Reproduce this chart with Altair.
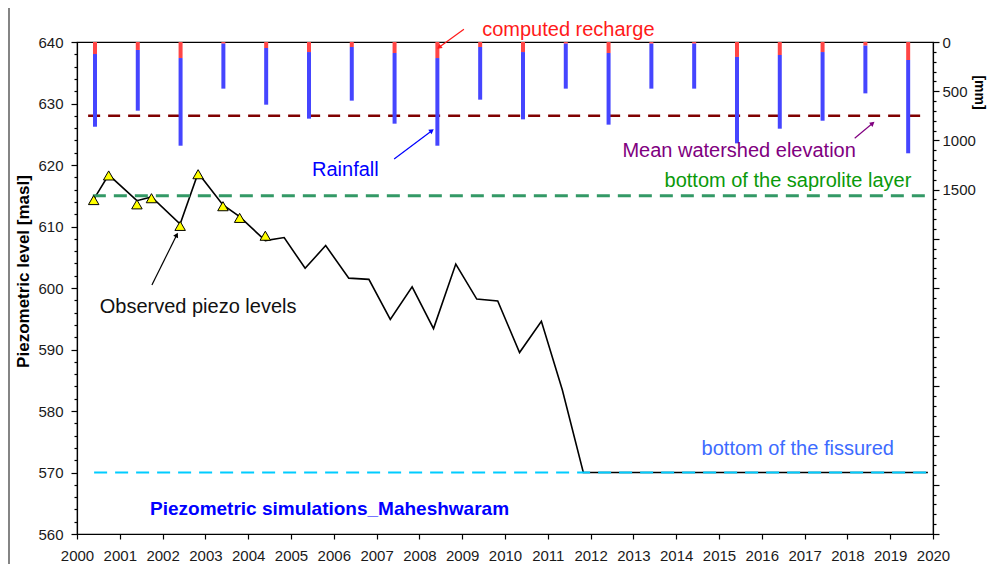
import altair as alt
import pandas as pd

# ---------------- data ----------------
bar_dates = [2000.42, 2001.42, 2002.42, 2003.42, 2004.42, 2005.42, 2006.42, 2007.42, 2008.42, 2009.42,
             2010.42, 2011.42, 2012.42, 2013.42, 2014.42, 2015.42, 2016.42, 2017.42, 2018.42, 2019.42]
rainfall_mm = [861, 698, 1054, 474, 637, 779, 596, 830, 1054, 586,
               786, 474, 840, 474, 474, 1030, 881, 800, 522, 1131]
recharge_mm = [122, 81, 163, 17, 61, 102, 51, 112, 163, 51,
               102, 17, 112, 17, 17, 152, 132, 102, 37, 183]

sim_dates = [2000.39, 2000.74, 2001.40, 2001.74, 2002.41, 2002.83, 2003.41, 2003.80, 2004.40, 2004.84,
             2005.33, 2005.81, 2006.35, 2006.82, 2007.32, 2007.83, 2008.33, 2008.85, 2009.34, 2009.83,
             2010.34, 2010.85, 2011.34, 2011.83, 2019.88]
sim_level = [614.4, 618.4, 614.2, 614.8, 610.4, 618.7, 613.5, 611.6, 607.7, 608.2,
             603.2, 606.9, 601.6, 601.4, 594.9, 600.2, 593.4, 603.9, 598.2, 597.9,
             589.5, 594.6, 583.4, 570.0, 570.0]

obs_dates = [2000.39, 2000.74, 2001.40, 2001.74, 2002.41, 2002.83, 2003.41, 2003.80, 2004.40]
obs_level = [614.3, 618.3, 613.6, 614.6, 610.1, 618.5, 613.3, 611.4, 608.5]

ref_level = [628.0, 615.0, 570.0]
ref_start = [2000.26, 2000.37, 2000.40]
ref_end = [2019.84, 2019.84, 2019.88]
ref_color = ["#800000", "#339966", "#00ccff"]
ref_width = [2.5, 3.0, 2.2]
ref_dash = [[12, 8], [13, 8], [13, 8]]

ann_text = ["computed recharge", "Rainfall", "Observed piezo levels",
            "Mean watershed elevation", "bottom of the saprolite layer", "bottom of the fissured"]
ann_x = [2011.48, 2006.27, 2002.83, 2015.47, 2016.61, 2016.84]
ann_y = [642.02, 619.25, 596.98, 622.28, 617.46, 573.89]
ann_color = ["#ff1a1a", "#0000ff", "#111111", "#800080", "#0a990a", "#3d6bff"]

title_text = ["Piezometric simulations_Maheshwaram"]
title_x = [2005.90]
title_y = [564.13]

arrow_x1 = [2009.04, 2007.41, 2001.75, 2018.17]
arrow_y1 = [642.07, 620.98, 600.49, 624.34]
arrow_x2 = [2008.46, 2008.29, 2002.33, 2018.59]
arrow_y2 = [639.14, 625.58, 608.62, 626.78]
arrow_color = ["#ff1a1a", "#0000ff", "#000000", "#800080"]
arrow_angle = [234, 54, 27, 51]

year_ticks = list(range(2000, 2021))
left_ticks = list(range(560, 641, 2))
right_ticks = list(range(0, 5001, 100))

FONT = "Liberation Sans"

# ---------------- scales & axes ----------------
x_scale = alt.Scale(domain=[2000, 2020], nice=False, zero=False)
yl_scale = alt.Scale(domain=[560, 640], nice=False, zero=False)
yr_scale = alt.Scale(domain=[0, 5000], nice=False, reverse=True)

x_axis = alt.Axis(values=year_ticks, format="d", title=None, grid=False, tickSize=5,
                  labelPadding=9, labelFontSize=15, labelFlush=False, labelOverlap=False,
                  orient="bottom")
yl_axis = alt.Axis(values=left_ticks, orient="left", grid=False, labelOverlap=False,
                   labelExpr="datum.value % 10 === 0 ? datum.label : ''",
                   tickSize={"condition": {"test": "datum.value % 10 === 0", "value": 6}, "value": 3},
                   labelPadding=8, labelFontSize=15, format="d",
                   title="Piezometric level [masl]", titleFontSize=17, titleFontWeight="bold",
                   titleX=-54, titleY=229, titleAngle=270, titleBaseline="middle", titleAlign="center")
yl_hidden = alt.Axis(orient="left", grid=False, labels=False, ticks=False, domain=False, title=None)
yr_axis = alt.Axis(values=right_ticks, orient="right", grid=False, labelOverlap=False,
                   labelExpr="datum.value <= 1500 && datum.value % 500 === 0 ? datum.label : ''",
                   tickSize={"condition": {"test": "datum.value % 500 === 0", "value": 6}, "value": 3},
                   labelPadding=3, labelFontSize=15, format="d",
                   title="[mm]", titleFontSize=14, titleFontWeight="bold",
                   titleX=45, titleY=50, titleAngle=90, titleBaseline="middle", titleAlign="center")

# ---------------- tables ----------------
bars = pd.DataFrame({"t": bar_dates, "rain": rainfall_mm, "rech": recharge_mm, "zero": [0] * len(bar_dates)})
sim = pd.DataFrame({"t": sim_dates, "h": sim_level})
obs = pd.DataFrame({"t": obs_dates, "h": obs_level})
ann = pd.DataFrame({"text": ann_text, "x": ann_x, "y": ann_y, "c": ann_color})
ttl = pd.DataFrame({"text": title_text, "x": title_x, "y": title_y})
arr = pd.DataFrame({"x1": arrow_x1, "y1": arrow_y1, "x2": arrow_x2, "y2": arrow_y2,
                    "c": arrow_color, "a": arrow_angle})


def X(field):
    return alt.X(field, type="quantitative", scale=x_scale, axis=x_axis)


# ---------------- group A: line + dashed reference levels (left scale) ----------------
line = alt.Chart(sim).mark_line(color="black", strokeWidth=1.6).encode(
    x=X("t"),
    y=alt.Y("h:Q", scale=yl_scale, axis=yl_axis),
)
refs = []
for lvl, s, e, col, w, d in zip(ref_level, ref_start, ref_end, ref_color, ref_width, ref_dash):
    df = pd.DataFrame({"s": [s], "e": [e], "h": [lvl]})
    refs.append(
        alt.Chart(df).mark_rule(color=col, strokeWidth=w, strokeDash=d).encode(
            x=X("s"), x2="e:Q",
            y=alt.Y("h:Q", scale=yl_scale, axis=yl_axis),
        )
    )
groupA = alt.layer(line, *refs)

# ---------------- group B: rainfall / recharge bars (right scale) ----------------
red = alt.Chart(bars).mark_rule(color="#ff4545", strokeWidth=4).encode(
    x=X("t"),
    y=alt.Y("zero:Q", scale=yr_scale, axis=yr_axis), y2="rech:Q",
)
blue = alt.Chart(bars).mark_rule(color="#4545ff", strokeWidth=4).encode(
    x=X("t"),
    y=alt.Y("rech:Q", scale=yr_scale, axis=yr_axis), y2="rain:Q",
)
groupB = alt.layer(red, blue)

# ---------------- group C: observed points, annotations (left scale) ----------------
pts = alt.Chart(obs).mark_point(shape="triangle-up", filled=True, fill="#ffff00", stroke="black",
                                strokeWidth=1, size=110, opacity=1).encode(
    x=X("t"),
    y=alt.Y("h:Q", scale=yl_scale, axis=yl_hidden),
)
texts = alt.Chart(ann).mark_text(font=FONT, fontSize=20, align="center", baseline="middle").encode(
    x=X("x"),
    y=alt.Y("y:Q", scale=yl_scale, axis=yl_hidden),
    text="text:N",
    color=alt.Color("c:N", scale=None),
)
title_mark = alt.Chart(ttl).mark_text(font=FONT, fontSize=19, fontWeight="bold", color="#0000ff",
                                       align="center", baseline="middle").encode(
    x=X("x"),
    y=alt.Y("y:Q", scale=yl_scale, axis=yl_hidden),
    text="text:N",
)
arrow_lines = alt.Chart(arr).mark_rule(strokeWidth=1.2).encode(
    x=X("x1"), x2="x2:Q",
    y=alt.Y("y1:Q", scale=yl_scale, axis=yl_hidden), y2="y2:Q",
    color=alt.Color("c:N", scale=None),
)
arrow_heads = alt.Chart(arr).mark_point(shape="triangle-up", filled=True, size=30, opacity=1).encode(
    x=X("x2"),
    y=alt.Y("y2:Q", scale=yl_scale, axis=yl_hidden),
    color=alt.Color("c:N", scale=None),
    angle=alt.Angle("a:Q", scale=None),
)
frame_left = alt.Chart(pd.DataFrame({"k": [0]})).mark_rule(color="#333333", strokeWidth=1.2).encode(
    x=alt.value(-68), y=alt.value(-34), y2=alt.value(522)
)
groupC = alt.layer(pts, arrow_lines, arrow_heads, texts, title_mark, frame_left)

chart = alt.layer(groupA, groupB, groupC).resolve_scale(y="independent").properties(
    width=856, height=492,
    padding={"left": 69, "top": 34, "right": 54, "bottom": 30},
    autosize=alt.AutoSizeParams(type="none"),
    background="white",
).configure_view(
    stroke="black", strokeWidth=1.2
).configure_axis(
    labelFont=FONT, titleFont=FONT, labelColor="#1a1a1a", titleColor="#000000",
    domainColor="black", tickColor="black", domainWidth=1.2, tickWidth=1.2,
)

chart.save("out.html", embed_options={"renderer": "svg", "actions": False})
